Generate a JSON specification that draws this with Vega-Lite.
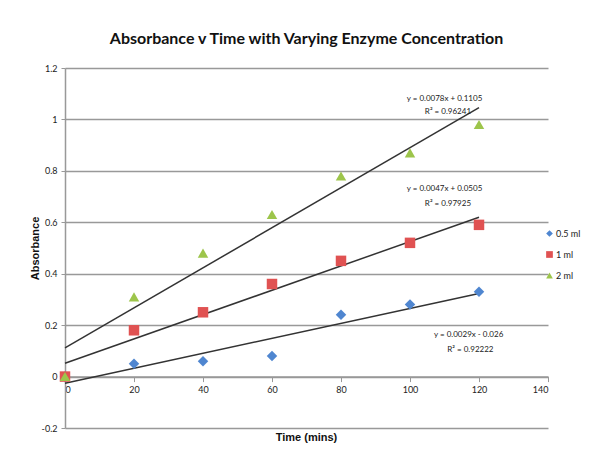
{
  "$schema": "https://vega.github.io/schema/vega-lite/v6.json",
  "autosize": "none",
  "width": 483,
  "height": 360,
  "padding": {"left": 65, "top": 68, "right": 59, "bottom": 33},
  "background": "white",
  "config": {
    "view": {"stroke": null},
    "font": "Lato"
  },
  "title": {
    "text": "Absorbance v Time with Varying Enzyme Concentration",
    "font": "Lato",
    "fontSize": 16,
    "fontWeight": "bold",
    "color": "#111",
    "anchor": "middle",
    "offset": 17
  },
  "datasets": {
    "points": [
      {"series": "0.5 ml", "time": 0, "abs": 0},
      {"series": "0.5 ml", "time": 20, "abs": 0.05},
      {"series": "0.5 ml", "time": 40, "abs": 0.06},
      {"series": "0.5 ml", "time": 60, "abs": 0.08},
      {"series": "0.5 ml", "time": 80, "abs": 0.24},
      {"series": "0.5 ml", "time": 100, "abs": 0.28},
      {"series": "0.5 ml", "time": 120, "abs": 0.33},
      {"series": "1 ml", "time": 0, "abs": 0},
      {"series": "1 ml", "time": 20, "abs": 0.18},
      {"series": "1 ml", "time": 40, "abs": 0.25},
      {"series": "1 ml", "time": 60, "abs": 0.36},
      {"series": "1 ml", "time": 80, "abs": 0.45},
      {"series": "1 ml", "time": 100, "abs": 0.52},
      {"series": "1 ml", "time": 120, "abs": 0.59},
      {"series": "2 ml", "time": 0, "abs": 0},
      {"series": "2 ml", "time": 20, "abs": 0.31},
      {"series": "2 ml", "time": 40, "abs": 0.48},
      {"series": "2 ml", "time": 60, "abs": 0.63},
      {"series": "2 ml", "time": 80, "abs": 0.78},
      {"series": "2 ml", "time": 100, "abs": 0.87},
      {"series": "2 ml", "time": 120, "abs": 0.98}
    ],
    "labels": [
      {"time": 110, "abs": 1.078, "text": "y = 0.0078x + 0.1105"},
      {"time": 111, "abs": 1.03, "text": "R² = 0.96241"},
      {"time": 110, "abs": 0.728, "text": "y = 0.0047x + 0.0505"},
      {"time": 111, "abs": 0.672, "text": "R² = 0.97925"},
      {"time": 117, "abs": 0.163, "text": "y = 0.0029x - 0.026"},
      {"time": 117.5, "abs": 0.105, "text": "R² = 0.92222"}
    ]
  },
  "layer": [
    {
      "data": {"name": "points"},
      "transform": [
        {"regression": "abs", "on": "time", "groupby": ["series"], "extent": [0, 120]}
      ],
      "mark": {"type": "line", "color": "#333333", "strokeWidth": 1.5},
      "encoding": {
        "x": {
          "field": "time", "type": "quantitative",
          "scale": {"domain": [0, 140], "nice": false},
          "axis": {
            "values": [0, 20, 40, 60, 80, 100, 120, 140],
            "offset": -51.4,
            "grid": false,
            "domainColor": "#999999",
            "domainWidth": 1.5,
            "tickColor": "#999999",
            "tickSize": 5,
            "labelFont": "Lato",
            "labelFontSize": 9,
            "labelColor": "#222",
            "labelPadding": 4,
            "title": "Time (mins)",
            "titleFont": "Liberation Sans",
            "titleFontSize": 11,
            "titleFontWeight": "bold",
            "titleColor": "#111",
            "titleY": 61,
            "titleX": 241,
            "titleBaseline": "middle"
          }
        },
        "y": {
          "field": "abs", "type": "quantitative",
          "scale": {"domain": [-0.2, 1.2], "nice": false},
          "axis": {
            "values": [-0.2, 0, 0.2, 0.4, 0.6, 0.8, 1, 1.2],
            "labelExpr": "'' + datum.value",
            "grid": true,
            "gridColor": "#999999",
            "gridWidth": 1.5,
            "domainColor": "#999999",
            "domainWidth": 1.5,
            "tickColor": "#999999",
            "tickSize": 4,
            "labelFont": "Lato",
            "labelFontSize": 9,
            "labelColor": "#222",
            "labelPadding": 4,
            "title": "Absorbance",
            "titleFont": "Liberation Sans",
            "titleFontSize": 11,
            "titleFontWeight": "bold",
            "titleColor": "#111",
            "titleX": -30,
            "titleY": 180,
            "titleAngle": -90,
            "titleAlign": "center",
            "titleBaseline": "middle"
          }
        },
        "detail": {"field": "series"}
      }
    },
    {
      "data": {"name": "points"},
      "mark": {"type": "point", "filled": true, "opacity": 1, "size": 110},
      "encoding": {
        "x": {"field": "time", "type": "quantitative"},
        "y": {"field": "abs", "type": "quantitative"},
        "color": {
          "field": "series", "type": "nominal",
          "scale": {"domain": ["0.5 ml", "1 ml", "2 ml"], "range": ["#4F86D0", "#E05252", "#9DC54B"]},
          "legend": {
            "title": null,
            "orient": "none",
            "legendX": 480,
            "legendY": 161,
            "labelFont": "Lato",
            "labelFontSize": 9,
            "labelColor": "#222",
            "rowPadding": 11,
            "symbolSize": 45,
            "labelOffset": 2
          }
        },
        "shape": {
          "field": "series", "type": "nominal",
          "scale": {"domain": ["0.5 ml", "1 ml", "2 ml"], "range": ["diamond", "square", "triangle-up"]}
        }
      }
    },
    {
      "data": {"name": "labels"},
      "mark": {"type": "text", "font": "Lato", "fontSize": 8, "color": "#222", "align": "center", "baseline": "middle"},
      "encoding": {
        "x": {"field": "time", "type": "quantitative"},
        "y": {"field": "abs", "type": "quantitative"},
        "text": {"field": "text"}
      }
    }
  ]
}
